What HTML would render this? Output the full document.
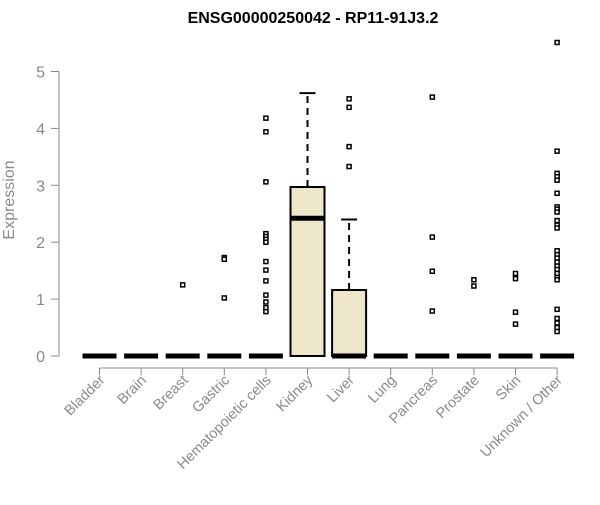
<!DOCTYPE html>
<html><head><meta charset="utf-8"><style>
body{margin:0;background:#fff}
svg{font-family:"Liberation Sans",Arial,sans-serif}
</style></head><body>
<svg id="chart" width="600" height="500">
<text x="313" y="23" text-anchor="middle" font-weight="bold" font-size="16" fill="#000">ENSG00000250042 - RP11-91J3.2</text>
<text transform="translate(14,200) rotate(-90)" text-anchor="middle" font-size="16" fill="#8a8a8a">Expression</text>
<g id="yaxis"></g>
<g id="xaxis"></g>
<g id="plot"></g>
</svg>
<script>
const categories=["Bladder","Brain","Breast","Gastric","Hematopoietic cells","Kidney","Liver","Lung","Pancreas","Prostate","Skin","Unknown / Other"];
const q1=[0,0,0,0,0,0,0,0,0,0,0,0];
const medians=[0,0,0,0,0,2.42,0,0,0,0,0,0];
const q3=[0,0,0,0,0,2.97,1.16,0,0,0,0,0];
const whiskerLow=[0,0,0,0,0,0,0,0,0,0,0,0];
const whiskerHigh=[0,0,0,0,0,4.62,2.40,0,0,0,0,0];
const outliers=[[],[],[1.25],[1.73,1.70,1.02],
[4.18,3.94,3.06,2.15,2.1,2.05,2.0,1.66,1.51,1.32,1.07,0.95,0.85,0.78],
[],[4.52,4.37,3.68,3.33],[],[4.55,2.09,1.49,0.79],[1.34,1.23],[1.45,1.36,0.77,0.56],
[5.51,3.60,3.21,3.15,3.09,2.86,2.62,2.58,2.53,2.38,2.30,2.25,1.85,1.78,1.72,1.65,1.58,1.52,1.45,1.38,1.34,0.82,0.66,0.58,0.50,0.43]];
const yTicks=[0,1,2,3,4,5];

const NS="http://www.w3.org/2000/svg";
const y=v=>356-v*56.9;
const bx=i=>99.5+41.6*i;
const tx=i=>99.5+41.6*i;
function mk(tag,attrs,parent){const e=document.createElementNS(NS,tag);for(const k in attrs)e.setAttribute(k,attrs[k]);parent.appendChild(e);return e;}
const ya=document.getElementById('yaxis'),xa=document.getElementById('xaxis'),pl=document.getElementById('plot');
let l=mk('line',{x1:59,x2:59,y1:y(5),y2:y(0),stroke:'#888'},ya);


yTicks.forEach(v=>{
 const t=mk('line',{x1:51,x2:59,y1:y(v),y2:y(v),stroke:'#888'},ya);
 
 
 const tt=mk('text',{x:45,y:y(v)+6,'text-anchor':'end','font-size':16,fill:'#8a8a8a'},ya);
 tt.textContent=v;
 
 
});
l=mk('line',{x1:tx(0),x2:tx(11),y1:368,y2:368,stroke:'#888'},xa);


categories.forEach((c,i)=>{
 const t=mk('line',{x1:tx(i),x2:tx(i),y1:368,y2:375,stroke:'#888'},xa);
 
 
 const tt=mk('text',{transform:`translate(${tx(i)+6},381) rotate(-45)`,'text-anchor':'end','font-size':14.5,fill:'#8a8a8a'},xa);
 tt.textContent=c;
 
 
 const g=mk('g',{},pl);
 
 
 const cx=bx(i),w=17;
 if(whiskerHigh[i]>q3[i]){
  mk('line',{x1:cx,x2:cx,y1:y(q3[i]),y2:y(whiskerHigh[i]),stroke:'#000','stroke-width':2,'stroke-dasharray':'7,5'},g);
  mk('line',{x1:cx-8,x2:cx+8,y1:y(whiskerHigh[i]),y2:y(whiskerHigh[i]),stroke:'#000','stroke-width':2},g);
 }
 if(q3[i]>q1[i]){
  mk('rect',{x:cx-w,y:y(q3[i]),width:2*w,height:y(q1[i])-y(q3[i]),fill:'#ede6cb',stroke:'#000','stroke-width':2},g);
 }
 mk('line',{x1:cx-w,x2:cx+w,y1:y(medians[i]),y2:y(medians[i]),stroke:'#000','stroke-width':5},g);
 outliers[i].forEach(v=>{
  const p=mk('rect',{x:cx-2,y:y(v)-2,width:4,height:4,fill:'#fff',stroke:'#000','stroke-width':1.5},g);
  
  
 });
});
</script>
</body></html>
